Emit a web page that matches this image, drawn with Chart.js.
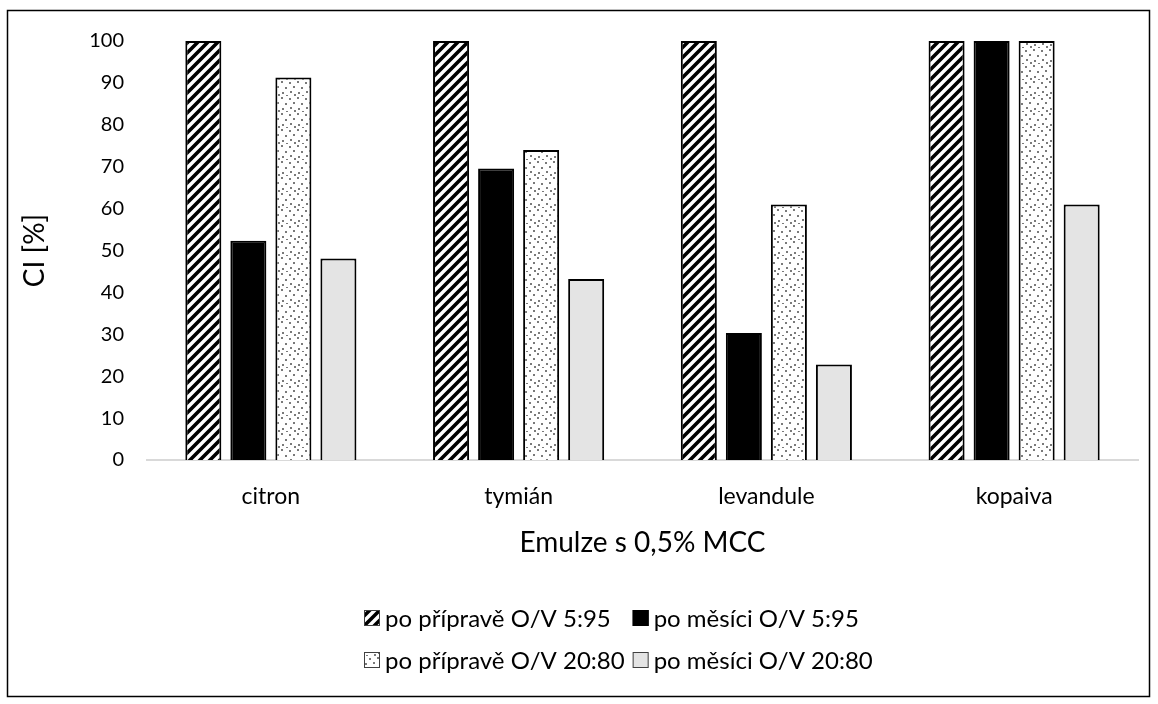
<!DOCTYPE html>
<html>
<head>
<meta charset="utf-8">
<title>CI emulze</title>
<script src="https://cdn.jsdelivr.net/npm/chart.js@4.4.1/dist/chart.umd.min.js"></script>
<style>
  html, body { margin: 0; padding: 0; background: #fff; }
</style>
</head>
<body>
<canvas id="chart" width="1158" height="704"></canvas>
<script>
// Data
const categories = ['citron', 'tymián', 'levandule', 'kopaiva'];
const seriesLabels = ['po přípravě O/V 5:95', 'po měsíci O/V 5:95', 'po přípravě O/V 20:80', 'po měsíci O/V 20:80'];
const fresh595  = [100, 100, 100, 100];
const month595  = [52.3, 69.6, 30.3, 100];
const fresh2080 = [91.3, 74, 61, 100];
const month2080 = [48.1, 43.2, 22.8, 61];
const yTicks = [0, 10, 20, 30, 40, 50, 60, 70, 80, 90, 100];

const FONT = 'Lato, "Open Sans", sans-serif';

// Fill patterns (hatch + dots), drawn on small tiles
function hatchPattern() {
  const c = document.createElement('canvas');
  c.width = 10; c.height = 10;
  const g = c.getContext('2d');
  g.fillStyle = '#fff';
  g.fillRect(0, 0, 10, 10);
  g.strokeStyle = '#000';
  g.lineWidth = 3.6;
  g.beginPath();
  g.moveTo(-5, 5);  g.lineTo(5, -5);
  g.moveTo(0, 10);  g.lineTo(10, 0);
  g.moveTo(5, 15);  g.lineTo(15, 5);
  g.stroke();
  return g.createPattern(c, 'repeat');
}

function dotPattern() {
  const c = document.createElement('canvas');
  c.width = 16; c.height = 16;
  const g = c.getContext('2d');
  g.fillStyle = '#fff';
  g.fillRect(0, 0, 16, 16);
  g.fillStyle = '#7a7a7a';
  [[1, 2], [9, 1], [5, 6], [13, 7], [2, 11], [10, 12], [6, 14], [14, 15]].forEach(([x, y]) => g.fillRect(x, y, 2, 2));
  return g.createPattern(c, 'repeat');
}

const fills = [hatchPattern(), '#000000', dotPattern(), '#e4e4e4'];
const seriesData = [fresh595, month595, fresh2080, month2080];

// Two-row legend laid out as a grid, like the original
const gridLegend = {
  id: 'gridLegend',
  afterDraw(chart) {
    const ctx = chart.ctx;
    ctx.save();

    // outer frame
    ctx.strokeStyle = '#000';
    ctx.lineWidth = 1.5;
    ctx.strokeRect(7.5, 10.5, 1142, 686);

    ctx.font = `24px ${FONT}`;
    ctx.textBaseline = 'middle';
    ctx.textAlign = 'left';
    const box = 16, gap = 5, colGap = 8;
    const items = chart.data.datasets.map(ds => ({
      text: ds.label,
      fill: ds.backgroundColor,
      w: box + gap + ctx.measureText(ds.label).width,
    }));
    const col1 = Math.max(items[0].w, items[2].w) + colGap;
    const col2 = Math.max(items[1].w, items[3].w);
    const x0 = Math.round(618 - (col1 + col2) / 2);
    const rowsY = [618, 660];

    items.forEach((it, i) => {
      const x = x0 + (i % 2) * col1;
      const y = rowsY[Math.floor(i / 2)];
      ctx.fillStyle = it.fill;
      ctx.fillRect(x, y - box / 2, box, box);
      ctx.strokeStyle = i === 1 ? '#000' : '#404040';
      ctx.lineWidth = 1;
      ctx.strokeRect(x + 0.5, y - box / 2 + 0.5, box - 1, box - 1);
      ctx.fillStyle = '#000';
      ctx.fillText(it.text, x + box + gap, y + 1);
    });
    ctx.restore();
  },
};

new Chart(document.getElementById('chart'), {
  type: 'bar',
  data: {
    labels: categories,
    datasets: seriesLabels.map((label, i) => ({
      label,
      data: seriesData[i],
      backgroundColor: fills[i],
      borderColor: '#000',
      borderWidth: 2,
      borderSkipped: 'bottom',
      barPercentage: 0.8,
      categoryPercentage: 0.727,
    })),
  },
  options: {
    responsive: false,
    animation: false,
    devicePixelRatio: 1,
    layout: { padding: { left: 15, right: 20, top: 41, bottom: 140 } },
    plugins: {
      legend: { display: false },
      tooltip: { enabled: false },
    },
    scales: {
      y: {
        min: 0,
        max: 100,
        afterBuildTicks: scale => { scale.ticks = yTicks.map(v => ({ value: v })); },
        afterFit: scale => { scale.width = 132; },
        grid: { display: false, drawTicks: false },
        border: { display: false },
        ticks: { padding: 23, color: '#000', font: { family: FONT, size: 20 } },
        title: {
          display: true,
          text: 'CI [%]',
          color: '#000',
          padding: { top: 3, bottom: 0 },
          font: { family: FONT, size: 28 },
        },
      },
      x: {
        afterFit: scale => { scale.height = 104; },
        grid: { display: false, drawTicks: false },
        border: { display: true, color: '#d9d9d9', width: 2 },
        ticks: { padding: 23, color: '#000', font: { family: FONT, size: 23 } },
        title: {
          display: true,
          text: 'Emulze s 0,5% MCC',
          color: '#000',
          padding: { top: 0, bottom: 4 },
          font: { family: FONT, size: 28 },
        },
      },
    },
  },
  plugins: [gridLegend],
});
</script>
</body>
</html>
